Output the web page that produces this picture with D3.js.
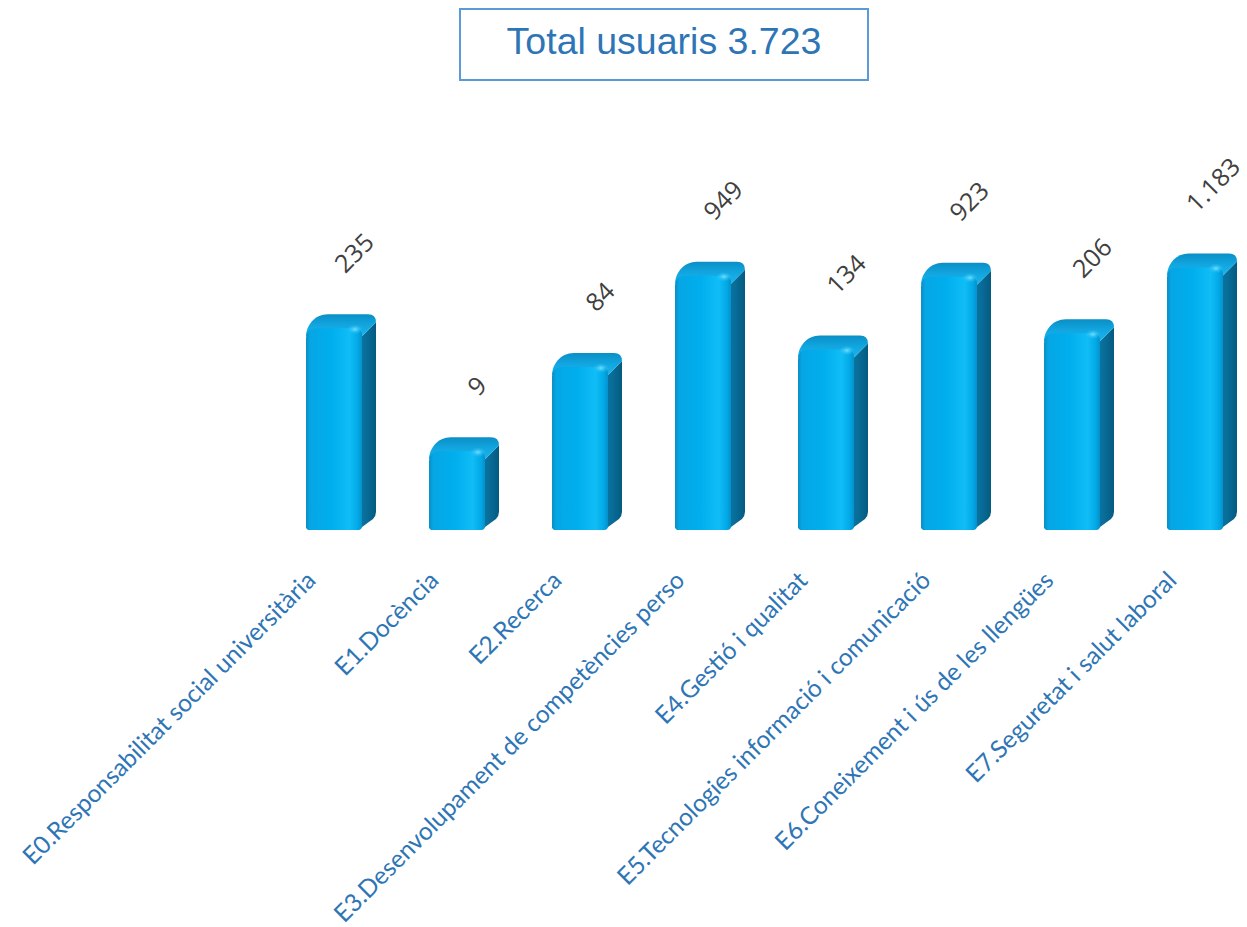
<!DOCTYPE html>
<html>
<head>
<meta charset="utf-8">
<script src="https://cdnjs.cloudflare.com/ajax/libs/d3/7.8.5/d3.min.js"></script>
<style>
  body { margin: 0; background: #fff; }
</style>
</head>
<body>
<div id="chart-area"></div>
<script>
// chart data
var categories = [
    "E0.Responsabilitat social universitària",
    "E1.Docència",
    "E2.Recerca",
    "E3.Desenvolupament de competències perso",
    "E4.Gestió i qualitat",
    "E5.Tecnologies informació i comunicació",
    "E6.Coneixement i ús de les llengües",
    "E7.Seguretat i salut laboral"
];
var values = [235, 9, 84, 949, 134, 923, 206, 1183];
var valueLabels = ["235", "9", "84", "949", "134", "923", "206", "1.183"];
var titleText = "Total usuaris 3.723";

var width = 1247,
    height = 927,
    baseY = 530,
    depth = 14;

var svg = d3.select("#chart-area").append("svg")
    .attr("width", width)
    .attr("height", height);

var defs = svg.append("defs");

// front face gradient
var gFront = defs.append("linearGradient").attr("id", "gFront")
    .attr("x1", "0").attr("x2", "1").attr("y1", "0").attr("y2", "0");
[[0, "#0a8cc4"], [0.07, "#06a6e4"], [0.45, "#00aeee"], [0.78, "#10bdf6"], [0.93, "#02a8e6"], [1, "#0590c9"]]
    .forEach(function (s) { gFront.append("stop").attr("offset", s[0]).attr("stop-color", s[1]); });

// side face gradient
var gSide = defs.append("linearGradient").attr("id", "gSide")
    .attr("x1", "0").attr("x2", "1").attr("y1", "0").attr("y2", "0");
[[0, "#0b78a6"], [0.5, "#086c97"], [1, "#045a80"]]
    .forEach(function (s) { gSide.append("stop").attr("offset", s[0]).attr("stop-color", s[1]); });

// top face gradient
var gTop = defs.append("linearGradient").attr("id", "gTop")
    .attr("x1", "0").attr("x2", "0").attr("y1", "0").attr("y2", "1");
[[0, "#0a8fc6"], [0.5, "#12a6e0"], [1, "#1ab4ec"]]
    .forEach(function (s) { gTop.append("stop").attr("offset", s[0]).attr("stop-color", s[1]); });

// highlight
var gHi = defs.append("radialGradient").attr("id", "gHi");
gHi.append("stop").attr("offset", 0).attr("stop-color", "#7fe4ff").attr("stop-opacity", 0.9);
gHi.append("stop").attr("offset", 1).attr("stop-color", "#20c0f8").attr("stop-opacity", 0);

// scales
var xScale = d3.scaleBand()
    .domain(categories)
    .range([272.5, 1256.5])
    .paddingInner(0.545)
    .paddingOuter(0.2725);

var yScale = d3.scaleLog()
    .domain([1, 10000])
    .range([534, 187]);

// title box
svg.append("rect")
    .attr("x", 460)
    .attr("y", 9)
    .attr("width", 408)
    .attr("height", 71)
    .attr("fill", "#fff")
    .attr("stroke", "#5b9bd5")
    .attr("stroke-width", 2);

svg.append("text")
    .attr("x", 664)
    .attr("y", 54)
    .attr("text-anchor", "middle")
    .style("font-family", "'Liberation Sans', Arial, sans-serif")
    .style("font-size", "37.5px")
    .style("fill", "#2e75b6")
    .text(titleText);

// bars
var bars = svg.selectAll(".bar")
    .data(values)
    .enter()
    .append("g")
    .attr("class", "bar");

function geom(d, i) {
    var x0 = xScale(categories[i]),
        w = xScale.bandwidth(),
        yt = Math.min(yScale(d), baseY - 4);
    return { x0: x0, x1: x0 + w, yt: yt, yb: baseY };
}

// side face
bars.append("path")
    .attr("d", function (d, i) {
        var g = geom(d, i);
        return "M" + (g.x1 - 4) + "," + g.yb +
            " L" + (g.x1 + depth - 3) + "," + (g.yb - depth + 3) +
            " Q" + (g.x1 + depth) + "," + (g.yb - depth) + " " + (g.x1 + depth) + "," + (g.yb - depth - 4) +
            " L" + (g.x1 + depth) + "," + (g.yt - depth + 8) +
            " L" + g.x1 + "," + (g.yt + 8) + " Z";
    })
    .attr("fill", "url(#gSide)");

// top face
bars.append("path")
    .attr("d", function (d, i) {
        var g = geom(d, i);
        return "M" + g.x0 + "," + (g.yt + 8) +
            " C" + g.x0 + "," + (g.yt - 2) + " " + (g.x0 + depth - 6) + "," + (g.yt - depth) + " " + (g.x0 + depth + 8) + "," + (g.yt - depth) +
            " L" + (g.x1 + depth - 8) + "," + (g.yt - depth) +
            " Q" + (g.x1 + depth) + "," + (g.yt - depth) + " " + (g.x1 + depth) + "," + (g.yt - depth + 8) +
            " L" + g.x1 + "," + (g.yt + 8) + " Z";
    })
    .attr("fill", "url(#gTop)");

// front face
bars.append("path")
    .attr("d", function (d, i) {
        var g = geom(d, i), r = 10, r2 = 7;
        return "M" + g.x0 + "," + (g.yb - 2) +
            " L" + g.x0 + "," + (g.yt + r) +
            " Q" + g.x0 + "," + g.yt + " " + (g.x0 + r) + "," + g.yt +
            " L" + (g.x1 - r2) + "," + g.yt +
            " Q" + g.x1 + "," + g.yt + " " + g.x1 + "," + (g.yt + r2) +
            " L" + g.x1 + "," + (g.yb - 4) +
            " Q" + g.x1 + "," + g.yb + " " + (g.x1 - 4) + "," + g.yb +
            " L" + (g.x0 + 2) + "," + g.yb + " Z";
    })
    .attr("fill", "url(#gFront)");

// highlight near top-right corner
bars.append("ellipse")
    .attr("cx", function (d, i) { return geom(d, i).x1 - 7; })
    .attr("cy", function (d, i) { return geom(d, i).yt + 1; })
    .attr("rx", 8)
    .attr("ry", 5)
    .attr("fill", "url(#gHi)");

// value labels, rotated
var fs = 25;
svg.selectAll(".val")
    .data(values)
    .enter()
    .append("text")
    .attr("class", "val")
    .style("font-family", "'Open Sans', 'Noto Sans', sans-serif")
    .style("font-size", fs + "px")
    .style("fill", "#404040")
    .text(function (d, i) { return valueLabels[i]; })
    .each(function (d, i) {
        var g = geom(d, i);
        var L = this.getComputedTextLength(),
            A = fs * 0.72;
        var cx = Math.min((g.x0 + g.x1) / 2 + 20, 1213);
        var ox = cx - (L - A) * 0.3536,
            oy = g.yt - depth - 40;
        d3.select(this).attr("transform", "translate(" + ox + "," + oy + ") rotate(-45)");
    });

// category labels, rotated
svg.selectAll(".cat")
    .data(categories)
    .enter()
    .append("text")
    .attr("class", "cat")
    .attr("text-anchor", "end")
    .attr("transform", function (d) {
        var cx = xScale(d) + xScale.bandwidth() / 2;
        return "translate(" + (cx - 17) + ",582) rotate(-45)";
    })
    .style("font-family", "Lato, 'Open Sans', sans-serif")
    .style("font-size", "24.5px")
    .style("fill", "#2e75b6")
    .text(function (d) { return d; });
</script>
</body>
</html>
